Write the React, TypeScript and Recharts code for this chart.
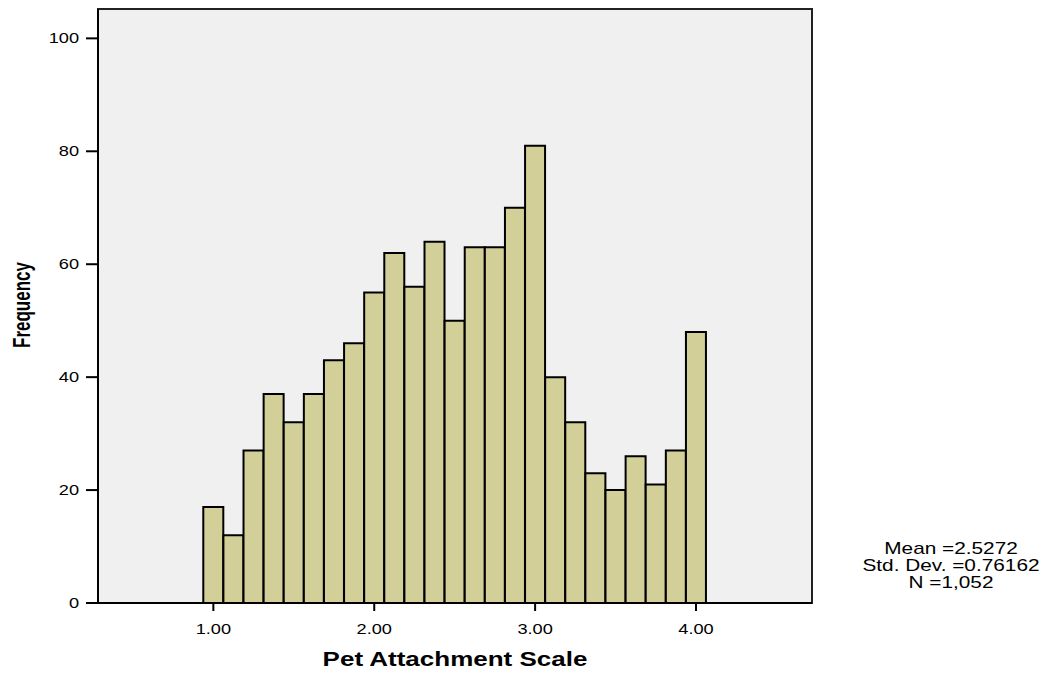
import React from 'react';
import { BarChart, Bar, XAxis, YAxis, ReferenceArea, CartesianGrid, Customized } from 'recharts';

const binCenters = [1.0, 1.125, 1.25, 1.375, 1.5, 1.625, 1.75, 1.875, 2.0, 2.125, 2.25, 2.375, 2.5, 2.625, 2.75, 2.875, 3.0, 3.125, 3.25, 3.375, 3.5, 3.625, 3.75, 3.875, 4.0];
const frequencies = [17, 12, 27, 37, 32, 37, 43, 46, 55, 62, 56, 64, 50, 63, 63, 70, 81, 40, 32, 23, 20, 26, 21, 27, 48];
const xTicks = [1, 2, 3, 4];
const yTicks = [0, 20, 40, 60, 80, 100];
const xDomain: [number, number] = [0.283, 4.721];
const yDomain: [number, number] = [0, 105.2];
const statLines = ['Mean =2.5272', 'Std. Dev. =0.76162', 'N =1,052'];
const xTitle = 'Pet Attachment Scale';
const yTitle = 'Frequency';

const data = binCenters.map((x, i) => ({ x, count: frequencies[i] }));

const FONT = '"Liberation Sans", Arial, sans-serif';
const SX = 1.3;

const XTick = (props: any) => {
  const { x, y, payload } = props;
  return (
    <text transform={`translate(${x},${y + 21}) scale(${SX},1)`} x={0} y={0} textAnchor="middle" fontSize={14} fontFamily={FONT} fill="#000">
      {Number(payload.value).toFixed(2)}
    </text>
  );
};

const YTick = (props: any) => {
  const { x, y, payload } = props;
  return (
    <text transform={`translate(${x - 5},${y + 5}) scale(${SX},1)`} x={0} y={0} textAnchor="end" fontSize={14} fontFamily={FONT} fill="#000">
      {payload.value}
    </text>
  );
};

const Stats = () => (
  <g>
    {statLines.map((s, i) => (
      <text key={i} transform={`translate(943,${546 + i * 17}) scale(${SX},1)`} x={0} y={0} textAnchor="middle" fontSize={16} fontFamily={FONT} fill="#000">
        {s}
      </text>
    ))}
    <text transform={`translate(447,658) scale(${SX},1)`} x={0} y={0} textAnchor="middle" fontSize={20} fontWeight="bold" fontFamily={FONT} fill="#000">
      {xTitle}
    </text>
    <text transform={`translate(22,297) scale(1.4,1) rotate(-90)`} x={0} y={0} textAnchor="middle" fontSize={17} fontWeight="bold" fontFamily={FONT} fill="#000">
      {yTitle}
    </text>
  </g>
);

export default function App() {
  return (
    <div style={{ width: 1043, height: 665, background: '#fff' }}>
      <BarChart
        width={1043}
        height={665}
        data={data}
        margin={{ top: 1, right: 239, left: 0, bottom: 0 }}
        barCategoryGap={0}
        barGap={0}
      >
        <CartesianGrid horizontal={false} vertical={false} fill="#f0f0f0" />
        <XAxis
          dataKey="x"
          type="number"
          domain={xDomain}
          ticks={xTicks}
          allowDataOverflow
          height={70}
          tickSize={8}
          tickMargin={2}
          tick={<XTick />}
          axisLine={{ stroke: '#000', strokeWidth: 2 }}
          tickLine={{ stroke: '#000', strokeWidth: 2 }}
        />
        <YAxis
          type="number"
          domain={yDomain}
          ticks={yTicks}
          allowDataOverflow
          width={90}
          tickSize={12}
          tickMargin={2}
          tick={<YTick />}
          axisLine={{ stroke: '#000', strokeWidth: 2 }}
          tickLine={{ stroke: '#000', strokeWidth: 2 }}
        />
        <Bar dataKey="count" fill="#d3cf99" stroke="#000" strokeWidth={2} isAnimationActive={false} />
        <ReferenceArea x1={xDomain[0]} x2={xDomain[1]} y1={yDomain[0]} y2={yDomain[1]} fill="none" stroke="#222" strokeWidth={2} fillOpacity={0} />
        <Customized component={Stats} />
      </BarChart>
    </div>
  );
}
